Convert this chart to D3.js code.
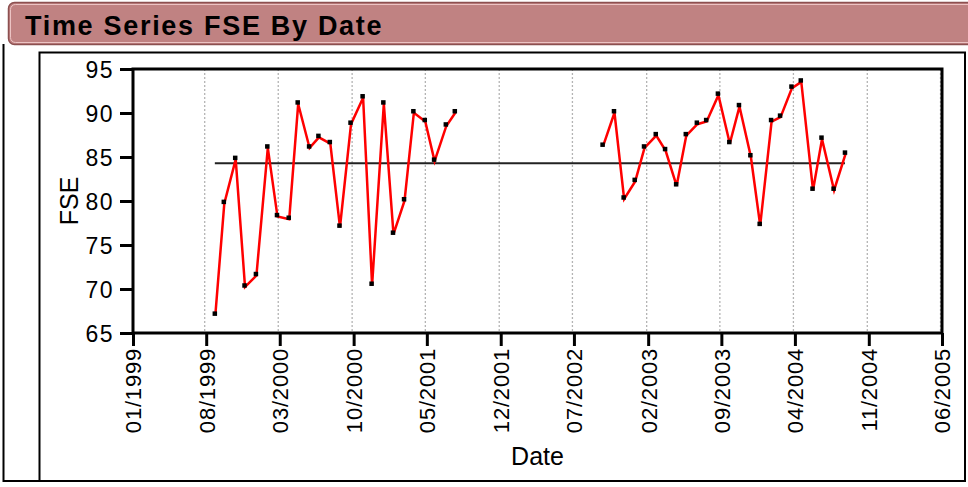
<!DOCTYPE html>
<html>
<head>
	<meta charset="utf-8">
	<title>Time Series FSE By Date</title>
	<script src="https://cdn.jsdelivr.net/npm/d3@7"></script>
	<style type="text/css">
		body{
			margin: 0;
			background-color: white;
		}
		text{
			font-family: "Liberation Sans", Arial, sans-serif;
		}
	</style>
</head>
<body>
	<div id="chart"></div>
	<script type="text/javascript">
		const title = 'Time Series FSE By Date';
		const xTitle = 'Date';
		const yTitle = 'FSE';

		const dates1 = ['1999-08-26','1999-09-21','1999-10-24','1999-11-20','1999-12-23','2000-01-25','2000-02-22','2000-03-27','2000-04-22','2000-05-25','2000-06-21','2000-07-24','2000-08-21','2000-09-22','2000-10-27','2000-11-22','2000-12-26','2001-01-23','2001-02-24','2001-03-23','2001-04-25','2001-05-22','2001-06-25','2001-07-21'];
		const fse1 = [67.2,79.9,84.9,70.4,71.7,86.2,78.4,78.1,91.2,86.2,87.4,86.7,77.2,88.9,91.9,70.6,91.2,76.4,80.2,90.2,89.2,84.7,88.7,90.2];

		const dates2 = ['2002-09-22','2002-10-25','2002-11-22','2002-12-24','2003-01-20','2003-02-23','2003-03-22','2003-04-23','2003-05-21','2003-06-22','2003-07-19','2003-08-22','2003-09-24','2003-10-22','2003-11-24','2003-12-21','2004-01-23','2004-02-18','2004-03-22','2004-04-18','2004-05-22','2004-06-17','2004-07-22','2004-08-24'];
		const fse2 = [86.4,90.2,80.4,82.4,86.2,87.6,85.9,81.9,87.6,88.9,89.2,92.2,86.7,90.9,85.2,77.4,89.2,89.7,93.0,93.7,81.4,87.2,81.4,85.5];

		const centerLine = 84.3;
		const xTickLabels = ['01/1999','08/1999','03/2000','10/2000','05/2001','12/2001','07/2002','02/2003','09/2003','04/2004','11/2004','06/2005'];
		const yTicks = [65,70,75,80,85,90,95];

		const [w,h] = [968,487];
		const plot = {left: 133, right: 942, top: 69, bottom: 333};
		const parse = d3.timeParse('%Y-%m-%d');
		const parseTick = d3.timeParse('%m/%Y');
		const tickDates = xTickLabels.map(parseTick);

		const segments = [
			dates1.map((d,i)=>({date: parse(d), fse: fse1[i]})),
			dates2.map((d,i)=>({date: parse(d), fse: fse2[i]}))
		];
		const allPts = segments.flat();

		const xScale = d3.scaleTime()
			.domain([tickDates[0], tickDates[tickDates.length-1]])
			.range([plot.left, plot.right]);
		const yScale = d3.scaleLinear()
			.domain([65,95])
			.range([plot.bottom, plot.top]);

		const svg = d3.select('#chart')
			.append('svg')
			.attr('width', w)
			.attr('height', h);

		// frames around the report
		svg.append('path')
			.attr('d', `M3.5,44 V481 H965 V52.5 H39.5 V481`)
			.attr('fill', 'none')
			.attr('stroke', 'black')
			.attr('stroke-width', 2);

		// title bar
		svg.append('rect')
			.attr('x', 8.5).attr('y', 2.5)
			.attr('width', 980).attr('height', 42)
			.attr('rx', 6)
			.attr('fill', '#c08282')
			.attr('stroke', '#8c5050')
			.attr('stroke-width', 1.5);
		svg.append('rect')
			.attr('x', 10.5).attr('y', 4.5)
			.attr('width', 980).attr('height', 38)
			.attr('rx', 5)
			.attr('fill', 'none')
			.attr('stroke', '#ecc4c4')
			.attr('stroke-width', 1);
		svg.append('text')
			.attr('x', 25)
			.attr('y', 35)
			.attr('font-size', 27)
			.attr('font-weight', 'bold')
			.attr('letter-spacing', 1.7)
			.text(title);

		// vertical dotted grid
		svg.append('g')
			.selectAll('line')
			.data(tickDates.slice(1))
			.enter()
			.append('line')
			.attr('x1', d=>xScale(d)-1.5).attr('x2', d=>xScale(d)-1.5)
			.attr('y1', plot.top).attr('y2', plot.bottom)
			.attr('stroke', '#b4b4b4')
			.attr('stroke-width', 1.3)
			.attr('stroke-dasharray', '2,2');

		// center line
		svg.append('line')
			.attr('x1', xScale(allPts[0].date))
			.attr('x2', xScale(allPts[allPts.length-1].date))
			.attr('y1', yScale(centerLine)).attr('y2', yScale(centerLine))
			.attr('stroke', '#222')
			.attr('stroke-width', 2);

		const line = d3.line()
			.x(d=>xScale(d.date)+0.5)
			.y(d=>yScale(d.fse)+1.5);
		svg.selectAll('.series')
			.data(segments)
			.enter()
			.append('path')
			.attr('class', 'series')
			.attr('d', line)
			.attr('fill', 'none')
			.attr('stroke', '#ff0000')
			.attr('stroke-width', 2.5)
			.attr('stroke-linejoin', 'miter');

		svg.selectAll('.pt')
			.data(allPts)
			.enter()
			.append('rect')
			.attr('class', 'pt')
			.attr('x', d=>xScale(d.date)-2.25)
			.attr('y', d=>yScale(d.fse)-2.25)
			.attr('width', 4.5)
			.attr('height', 4.5)
			.attr('fill', 'black');

		// plot frame
		svg.append('rect')
			.attr('x', plot.left).attr('y', plot.top)
			.attr('width', plot.right-plot.left)
			.attr('height', plot.bottom-plot.top)
			.attr('fill', 'none')
			.attr('stroke', 'black')
			.attr('stroke-width', 3);

		const xAxis = d3.axisBottom(xScale)
			.tickValues(tickDates)
			.tickFormat(d3.timeFormat('%m/%Y'))
			.tickSize(13)
			.tickSizeOuter(0);
		const gx = svg.append('g')
			.attr('transform', `translate(0,${plot.bottom})`)
			.call(xAxis);
		gx.select('.domain').remove();
		gx.selectAll('.tick line').attr('stroke', 'black').attr('stroke-width', 3);
		gx.selectAll('.tick text')
			.attr('font-size', 22)
			.attr('letter-spacing', 0.8)
			.attr('fill', 'black')
			.attr('text-anchor', 'end')
			.attr('transform', 'rotate(-90)')
			.attr('x', -15)
			.attr('y', 0)
			.attr('dy', '0.36em');

		const yAxis = d3.axisLeft(yScale)
			.tickValues(yTicks)
			.tickSize(13)
			.tickSizeOuter(0);
		const gy = svg.append('g')
			.attr('transform', `translate(${plot.left},0)`)
			.call(yAxis);
		gy.select('.domain').remove();
		gy.selectAll('.tick line').attr('stroke', 'black').attr('stroke-width', 3);
		gy.selectAll('.tick text')
			.attr('font-size', 23)
			.attr('letter-spacing', 1.5)
			.attr('fill', 'black')
			.attr('x', -19)
			.attr('dy', '0.36em');

		svg.append('text')
			.attr('x', (plot.left+plot.right)/2)
			.attr('y', 465)
			.attr('text-anchor', 'middle')
			.attr('font-size', 25)
			.text(xTitle);
		svg.append('text')
			.attr('transform', `translate(78,${(plot.top+plot.bottom)/2}) rotate(-90)`)
			.attr('text-anchor', 'middle')
			.attr('font-size', 25)
			.text(yTitle);
	</script>
</body>
</html>
